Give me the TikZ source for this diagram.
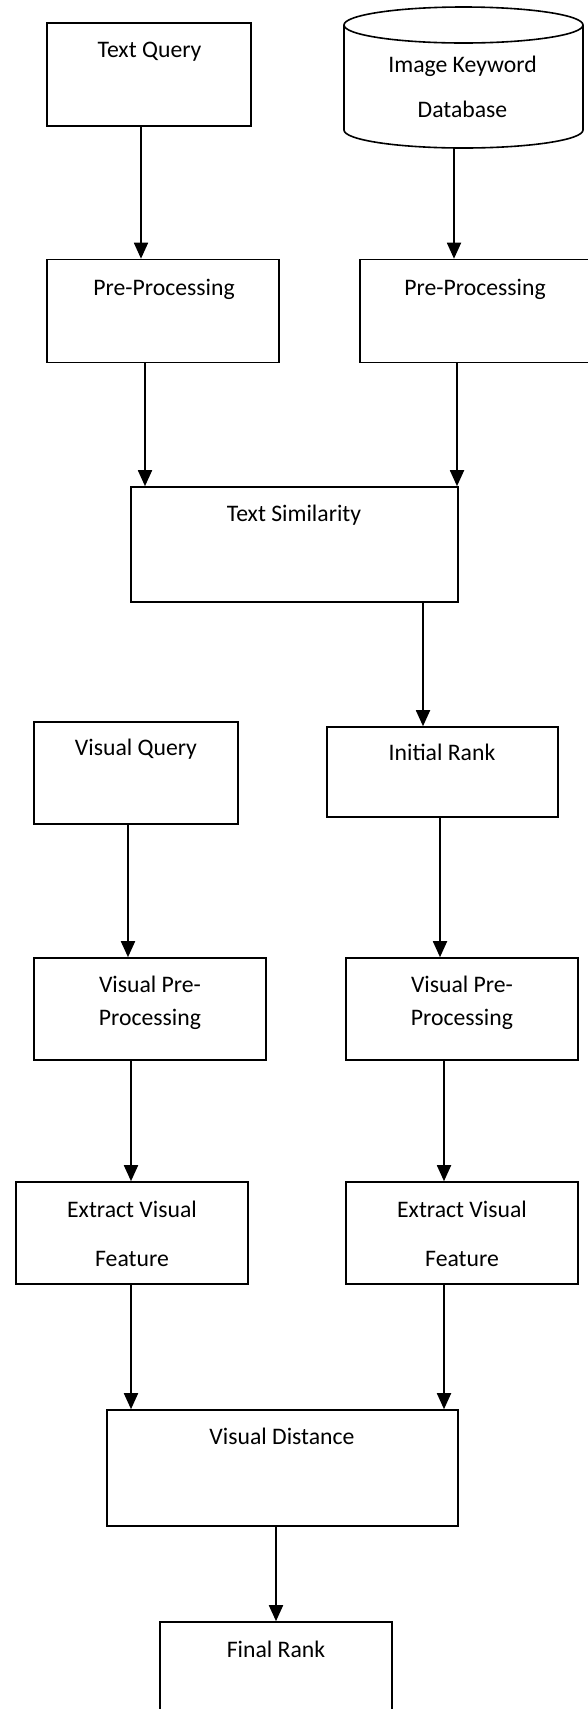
\documentclass[tikz,border=0pt]{standalone}
\usepackage{fontspec}
\setmainfont{Carlito}
\usetikzlibrary{arrows.meta}

\tikzset{
  box/.style={draw, line width=1.6pt, inner sep=0pt, rectangle},
  lbl/.style={anchor=base, inner sep=0pt, font=\fontsize{23.7}{28}\selectfont},
  arr/.style={line width=1.8pt, -{Triangle[width=14pt,length=16pt]}},
}

\begin{document}
\begin{tikzpicture}[x=1pt, y=-1pt]
\useasboundingbox (0,0) rectangle (588,1709);
\clip (0,0) rectangle (588,1709);
\fill[white] (0,0) rectangle (588,1709);

% ---- text branch ----
\node[box, minimum width=204pt, minimum height=103pt] (tq) at (149,74.5) {};
\node[lbl] (tqt) at (149.5,57) {Text Query};

% database drum
\node[inner sep=0pt, minimum width=239pt, minimum height=141pt] (db) at (463.5,77.5) {};
\draw[line width=1.6pt, fill=white] (344,25) -- (344,130)
   arc[start angle=180, end angle=360, x radius=119.5pt, y radius=18pt]
   -- (583,25);
\draw[line width=1.6pt] (463.5,25) ellipse [x radius=119.5pt, y radius=18pt];
\node[lbl] (dbt1) at (462.5,72) {Image Keyword};
\node[lbl] (dbt2) at (462.5,117) {Database};

\node[box, minimum width=232pt, minimum height=103pt] (pp1) at (163,311) {};
\node[lbl] (pp1t) at (164,295) {Pre-Processing};
\node[box, minimum width=240pt, minimum height=103pt] (pp2) at (480,311) {};
\node[lbl] (pp2t) at (475,295) {Pre-Processing};

\node[box, minimum width=327pt, minimum height=115pt] (ts) at (294.5,544.5) {};
\node[lbl] (tst) at (294,521) {Text Similarity};

% ---- visual branch ----
\node[box, minimum width=204pt, minimum height=102pt] (vq) at (136,773) {};
\node[lbl] (vqt) at (136,755) {Visual Query};
\node[box, minimum width=231pt, minimum height=90pt] (ir) at (442.5,772) {};
\node[lbl] (irt) at (442,760) {Initial Rank};

\node[box, minimum width=232pt, minimum height=102pt] (vpp1) at (150,1009) {};
\node[lbl] (vpp1a) at (150,992) {Visual Pre-};
\node[lbl] (vpp1b) at (150,1025) {Processing};
\node[box, minimum width=232pt, minimum height=102pt] (vpp2) at (462,1009) {};
\node[lbl] (vpp2a) at (462,992) {Visual Pre-};
\node[lbl] (vpp2b) at (462,1025) {Processing};

\node[box, minimum width=232pt, minimum height=102pt] (evf1) at (132,1233) {};
\node[lbl] (evf1a) at (132,1217) {Extract Visual};
\node[lbl] (evf1b) at (132,1266) {Feature};
\node[box, minimum width=232pt, minimum height=102pt] (evf2) at (462,1233) {};
\node[lbl] (evf2a) at (462,1217) {Extract Visual};
\node[lbl] (evf2b) at (462,1266) {Feature};

\node[box, minimum width=351pt, minimum height=116pt] (vd) at (282.5,1468) {};
\node[lbl] (vdt) at (282,1444) {Visual Distance};

\node[box, minimum width=232pt, minimum height=108pt] (fr) at (276,1676) {};
\node[lbl] (frt) at (276,1657) {Final Rank};

% ---- connector columns ----
\coordinate (c1) at (141,0);
\coordinate (c2) at (454,0);
\coordinate (c3) at (145,0);
\coordinate (c4) at (457,0);
\coordinate (c5) at (423,0);
\coordinate (c6) at (128,0);
\coordinate (c7) at (440,0);
\coordinate (c8) at (131,0);
\coordinate (c9) at (444,0);
\coordinate (c10) at (276,0);

\draw[arr] (tq.south -| c1) -- (pp1.north -| c1);
\draw[arr] (db.south -| c2) -- (pp2.north -| c2);
\draw[arr] (pp1.south -| c3) -- (ts.north -| c3);
\draw[arr] (pp2.south -| c4) -- (ts.north -| c4);
\draw[arr] (ts.south -| c5) -- (ir.north -| c5);
\draw[arr] (vq.south -| c6) -- (vpp1.north -| c6);
\draw[arr] (ir.south -| c7) -- (vpp2.north -| c7);
\draw[arr] (vpp1.south -| c8) -- (evf1.north -| c8);
\draw[arr] (vpp2.south -| c9) -- (evf2.north -| c9);
\draw[arr] (evf1.south -| c8) -- (vd.north -| c8);
\draw[arr] (evf2.south -| c9) -- (vd.north -| c9);
\draw[arr] (vd.south -| c10) -- (fr.north -| c10);
\end{tikzpicture}
\end{document}
